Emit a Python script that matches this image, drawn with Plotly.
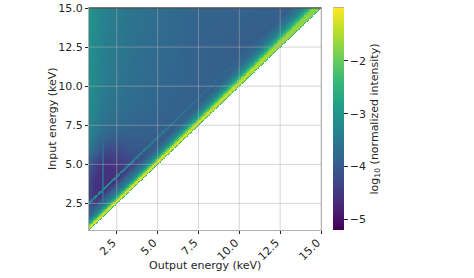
import numpy as np
import plotly.graph_objects as go

# Values (log10 normalized intensity)
x_ticks = [2.5, 5.0, 7.5, 10.0, 12.5, 15.0]
y_ticks = [2.5, 5.0, 7.5, 10.0, 12.5, 15.0]
cbar_ticks = [-2, -3, -4, -5]
e_min, e_max = 0.8, 15.0
bg_output = [0.8, 1.2, 1.6, 2.0, 2.5, 3.5, 5.0, 7.5, 10.0, 15.0]
bg_input = [0.8, 2.0, 3.0, 4.0, 5.0, 6.0, 7.0, 8.5, 10.0, 12.5, 15.0]
bg_values = [
    [-3.4, -3.5, -3.5, -3.5, -3.5, -3.5, -3.5, -3.5, -3.5, -3.5],
    [-3.9, -4.0, -4.2, -4.2, -4.2, -4.2, -4.2, -4.2, -4.2, -4.2],
    [-4.3, -4.6, -4.8, -4.8, -4.6, -4.3, -4.15, -4.1, -4.1, -4.1],
    [-4.2, -4.6, -4.9, -4.8, -4.6, -4.4, -4.15, -4.1, -4.1, -4.1],
    [-4.0, -4.3, -4.6, -4.6, -4.5, -4.3, -4.1, -4.0, -4.0, -4.0],
    [-3.5, -3.8, -4.1, -4.2, -4.2, -4.05, -4.0, -4.0, -4.0, -4.0],
    [-3.3, -3.5, -3.7, -3.8, -3.85, -3.9, -3.95, -4.0, -4.0, -4.0],
    [-3.2, -3.3, -3.5, -3.6, -3.65, -3.75, -3.85, -3.95, -4.0, -4.0],
    [-3.15, -3.25, -3.4, -3.5, -3.55, -3.7, -3.8, -3.9, -3.95, -4.0],
    [-3.1, -3.2, -3.35, -3.45, -3.5, -3.65, -3.75, -3.9, -3.95, -4.0],
    [-3.0, -3.15, -3.3, -3.4, -3.45, -3.6, -3.7, -3.85, -3.9, -3.95],
]
loss_kev = [0.0, 0.05, 0.1, 0.2, 0.3, 0.4, 0.55, 0.75, 1.0, 1.4, 2.0]
loss_values = [-2.5, -1.8, -1.3, -1.15, -1.55, -2.0, -2.6, -3.1, -3.55, -3.9, -4.6]
width_input = [0.8, 5.0, 10.0, 15.0]
width_scale = [0.7, 0.8, 1.0, 1.3]
peak_input = [0.8, 5.0, 10.0, 15.0]
peak_cap = [-1.15, -1.2, -1.4, -1.8]
escape_offset = 1.74
escape_input = [2.5, 7.0, 10.0, 15.0]
escape_level = [-3.3, -3.5, -3.8, -3.9]
line_energy = 1.66
line_input = [2.0, 2.5, 4.0, 6.0, 8.0]
line_level = [-3.5, -3.6, -3.85, -3.8, -3.8]

axis = np.arange(e_min, e_max + 0.025, 0.05)
X, Y = np.meshgrid(axis, axis)
rows = [np.interp(axis, bg_output, r) for r in bg_values]
rows = np.array(rows)
bg = np.array([np.interp(axis, bg_input, rows[:, j]) for j in range(len(axis))]).T
loss = Y - X
ridge = np.interp(loss / np.interp(Y, width_input, width_scale), loss_kev, loss_values)
ridge = np.minimum(ridge, np.interp(Y, peak_input, peak_cap))
esc = np.where(np.abs(loss - escape_offset) < 0.1, np.interp(Y, escape_input, escape_level), -9.0)
vert = np.where(np.abs(X - line_energy) < 0.07, np.interp(Y, line_input, line_level), -9.0)
vert = np.where((Y < line_input[0]) | (Y > line_input[-1]), -9.0, vert)
Z = np.maximum.reduce([bg, ridge, esc, vert])
Z = np.where(loss < -0.001, np.nan, Z)

FONT = "DejaVu Sans"
INK = "#262626"
GRID = "rgba(176,176,176,0.5)"
TITLE_FONT = dict(size=11, color=INK, family=FONT)

fig = go.Figure(go.Heatmap(
    x=axis, y=axis, z=np.round(Z, 3), zmin=-5.2, zmax=-1.0, colorscale="Viridis",
    hoverongaps=False,
    colorbar=dict(
        x=(333 - 89) / 232, xanchor="left", xpad=0, ypad=0,
        y=0, yanchor="bottom", lenmode="fraction", len=1,
        thicknessmode="pixels", thickness=11, outlinewidth=0,
        tickvals=cbar_ticks, ticktext=["\u2212" + str(abs(t)) for t in cbar_ticks],
        ticks="outside", ticklen=4, tickcolor=INK, tickfont=dict(size=11, color=INK, family=FONT),
        title=dict(text="log<sub>10</sub> (normalized intensity)", side="right", font=TITLE_FONT),
    ),
))
for v in x_ticks:
    fig.add_shape(type="line", x0=v, x1=v, y0=0, y1=1, xref="x", yref="paper", layer="above",
                  line=dict(color=GRID, width=1))
for v in y_ticks:
    fig.add_shape(type="line", y0=v, y1=v, x0=0, x1=1, yref="y", xref="paper", layer="above",
                  line=dict(color=GRID, width=1))
fig.add_shape(type="line", x0=0, x1=1, y0=1, y1=1, xref="paper", yref="paper", layer="above",
              line=dict(color="#3a3a3a", width=1))
fig.add_shape(type="line", x0=(333 - 89) / 232, x1=(344 - 89) / 232, y0=1, y1=1, xref="paper", yref="paper",
              layer="above", line=dict(color="#6a6a2a", width=1))
fig.add_annotation(text="Output energy (keV)", x=0.5, y=-35 / 222, xref="paper", yref="paper",
                   showarrow=False, font=TITLE_FONT, xanchor="center", yanchor="middle")
fig.add_annotation(text="Input energy (keV)", x=-37 / 232, y=0.5, xref="paper", yref="paper",
                   showarrow=False, font=TITLE_FONT, textangle=-90, xanchor="center", yanchor="middle")
axis_style = dict(range=[e_min, e_max], showgrid=False, zeroline=False, showline=True, mirror=True,
                  linecolor="#b0b0b0", linewidth=1, ticks="outside", ticklen=3, tickcolor=INK,
                  automargin=False,
                  tickfont=dict(size=11, color=INK, family=FONT), tickformat=".1f")
fig.update_layout(
    width=474, height=278, margin=dict(l=89, r=153, t=8, b=48, autoexpand=False),
    paper_bgcolor="white", plot_bgcolor="white",
    xaxis=dict(axis_style, tickvals=x_ticks, tickangle=-45, ticklabelshift=-4, ticklabelstandoff=-2),
    yaxis=dict(axis_style, tickvals=y_ticks, linewidth=1),
)
fig.write_html("out.html", post_script="document.body.style.margin='0';",
               config={"displayModeBar": False})
